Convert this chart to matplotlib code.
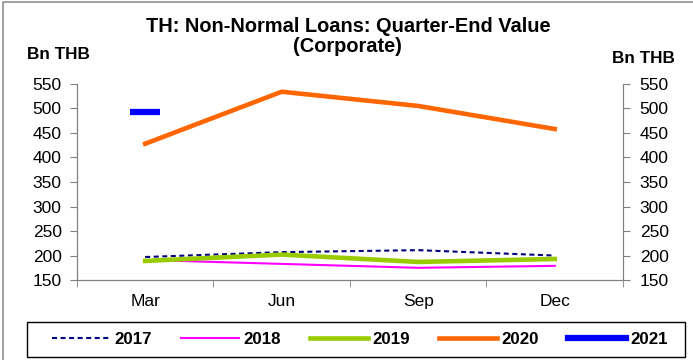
import numpy as np
import matplotlib.pyplot as plt
from matplotlib.patches import Rectangle
from matplotlib.lines import Line2D

plt.rcParams['font.family'] = ['Liberation Sans', 'DejaVu Sans']

quarters = ['Mar', 'Jun', 'Sep', 'Dec']
y2017 = [197, 207, 211, 200]
y2018 = [191, 183, 175, 179]
y2019 = [189, 202, 187, 193]
y2020 = [428, 534, 505, 458]
y2021 = [493]

fig = plt.figure(figsize=(6.93, 3.6), dpi=100)
ax = fig.add_axes([0.111, 0.222, 0.788, 0.545])
x = np.arange(len(quarters))

l1, = ax.plot(x, y2017, color='#000080', lw=1.5, ls=(0, (2.4, 1.7)), label='2017')
l2, = ax.plot(x, y2018, color='#ff00ff', lw=1.5, label='2018')
l3, = ax.plot(x, y2019, color='#99cc00', lw=3.3, label='2019')
l4, = ax.plot(x, y2020, color='#ff6600', lw=3.3, label='2020')
# single point for 2021 -> short bar marker
ax.plot(x[:len(y2021)], y2021, color='#0000ff', ls='none', marker='_',
        markersize=22, markeredgewidth=4.5)
l5, = ax.plot([], [], color='#0000ff', lw=4.5, label='2021')

ax.set_xlim(-0.5, 3.5)
ax.set_ylim(150, 550)
ax.set_yticks(range(150, 551, 50))
ax.set_xticks(x)
ax.set_xticklabels(quarters, fontsize=12.5)
ax.tick_params(axis='x', which='major', length=0, pad=10)
ax.set_xticks([-0.5, 0.5, 1.5, 2.5, 3.5], minor=True)
ax.tick_params(axis='x', which='minor', length=5, color='#808080')
ax.tick_params(axis='y', labelsize=12.5, length=5, pad=6, color='#808080')

ax2 = ax.twinx()
ax2.set_ylim(150, 550)
ax2.set_yticks(range(150, 551, 50))
ax2.tick_params(axis='y', labelsize=12.5, length=5, pad=7, color='#808080')

for a in (ax, ax2):
    a.spines['top'].set_visible(False)
    for s in ('left', 'right', 'bottom'):
        a.spines[s].set_color('#808080')

fig.text(0.502, 0.911, 'TH: Non-Normal Loans: Quarter-End Value',
         ha='center', va='baseline', fontsize=14.4, fontweight='bold')
fig.text(0.502, 0.856, '(Corporate)',
         ha='center', va='baseline', fontsize=14.4, fontweight='bold')
fig.text(0.039, 0.836, 'Bn THB', ha='left', va='baseline', fontsize=12.3, fontweight='bold')
fig.text(0.974, 0.825, 'Bn THB', ha='right', va='baseline', fontsize=12.3, fontweight='bold')

leg = fig.legend(handles=[l1, l2, l3, l4, l5], loc='center',
                 bbox_to_anchor=(0.5195, 0.057), ncol=5, frameon=False,
                 prop={'weight': 'bold', 'size': 12.2}, handlelength=3.4,
                 handletextpad=0.3, columnspacing=1.7)

# legend box
fig.patches.append(Rectangle((0.039, 0.0083), 0.9495, 0.0972, transform=fig.transFigure,
                             fill=False, edgecolor='black', lw=1.0))
# chart border, only top and left edges show
fig.lines.append(Line2D([0.005, 0.005, 1.0], [0.0, 0.994, 0.994], transform=fig.transFigure,
                        color='#909090', lw=1.2))

fig.savefig('out.png', dpi=100)
